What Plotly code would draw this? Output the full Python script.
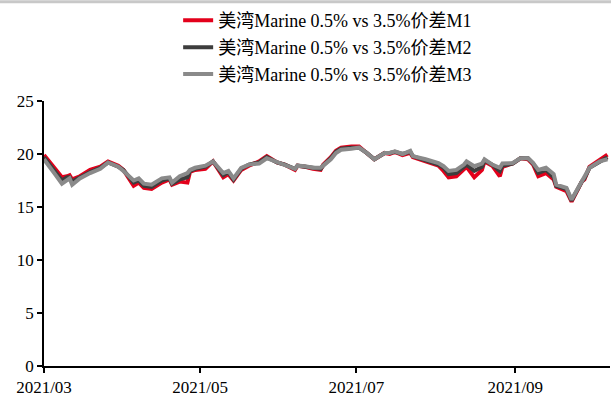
import plotly.graph_objects as go

# Daily spread observations (USD/t)
dates = [
    "2021-03-01", "2021-03-04", "2021-03-05", "2021-03-08", "2021-03-10", "2021-03-11",
    "2021-03-12", "2021-03-15", "2021-03-19", "2021-03-23", "2021-03-26", "2021-03-30",
    "2021-04-01", "2021-04-05", "2021-04-07", "2021-04-09", "2021-04-12", "2021-04-16",
    "2021-04-19", "2021-04-20", "2021-04-23", "2021-04-26", "2021-04-27", "2021-04-29",
    "2021-05-03", "2021-05-06", "2021-05-10", "2021-05-12", "2021-05-14", "2021-05-17",
    "2021-05-20", "2021-05-24", "2021-05-27", "2021-05-31", "2021-06-03", "2021-06-07",
    "2021-06-08", "2021-06-11", "2021-06-14", "2021-06-17", "2021-06-18", "2021-06-21",
    "2021-06-23", "2021-06-25", "2021-06-29", "2021-07-02", "2021-07-05", "2021-07-08",
    "2021-07-12", "2021-07-14", "2021-07-16", "2021-07-19", "2021-07-22", "2021-07-23",
    "2021-07-28", "2021-08-02", "2021-08-04", "2021-08-06", "2021-08-09", "2021-08-12",
    "2021-08-13", "2021-08-16", "2021-08-19", "2021-08-20", "2021-08-23", "2021-08-26",
    "2021-08-27", "2021-08-31", "2021-09-03", "2021-09-06", "2021-09-08", "2021-09-10",
    "2021-09-13", "2021-09-16", "2021-09-17", "2021-09-21", "2021-09-23", "2021-09-27",
    "2021-09-28", "2021-09-30", "2021-10-04", "2021-10-07",
]

spread_m1 = [
    19.9, 19.0, 18.8, 17.8, 17.9, 18.0, 17.6, 17.9, 18.5, 18.8, 19.3, 18.9,
    18.5, 17.0, 17.3, 16.8, 16.7, 17.3, 17.6, 17.1, 17.4, 17.3, 18.3, 18.5,
    18.6, 19.3, 17.8, 18.1, 17.5, 18.5, 18.9, 19.3, 19.8, 19.2, 19.0, 18.5,
    18.9, 18.8, 18.6, 18.5, 19.0, 19.7, 20.3, 20.6, 20.7, 20.7, 20.1, 19.5,
    20.1, 20.0, 20.2, 19.9, 20.1, 19.7, 19.3, 18.9, 18.4, 17.8, 17.9, 18.5,
    18.8, 17.8, 18.5, 19.3, 18.9, 17.9, 18.8, 19.1, 19.6, 19.5, 19.0, 17.9,
    18.2, 17.6, 16.9, 16.5, 15.5, 17.4, 17.6, 18.8, 19.5, 19.95,
]

spread_m2 = [
    19.7, 18.8, 18.5, 17.5, 17.8, 17.8, 17.4, 17.8, 18.3, 18.7, 19.2, 18.8,
    18.5, 17.3, 17.5, 17.0, 16.9, 17.5, 17.7, 17.2, 17.6, 17.8, 18.4, 18.6,
    18.8, 19.3, 18.0, 18.3, 17.6, 18.6, 19.0, 19.2, 19.7, 19.2, 19.0, 18.6,
    18.9, 18.8, 18.7, 18.6, 18.9, 19.6, 20.2, 20.5, 20.6, 20.6, 20.1, 19.5,
    20.1, 20.1, 20.2, 20.0, 20.2, 19.8, 19.4, 19.0, 18.7, 18.1, 18.2, 18.8,
    19.0, 18.4, 18.8, 19.4, 19.0, 18.4, 18.9, 19.1, 19.6, 19.6, 19.1, 18.2,
    18.5, 17.8, 17.0, 16.7, 15.6, 17.4, 17.7, 18.7, 19.3, 19.7,
]

spread_m3 = [
    19.5, 18.6, 18.2, 17.2, 17.6, 17.7, 17.1, 17.7, 18.2, 18.6, 19.2, 18.8,
    18.4, 17.5, 17.7, 17.2, 17.1, 17.7, 17.8, 17.3, 17.9, 18.2, 18.5, 18.7,
    18.9, 19.3, 18.2, 18.4, 17.7, 18.7, 19.0, 19.1, 19.6, 19.2, 19.0, 18.6,
    18.9, 18.85, 18.7, 18.7, 18.9, 19.5, 20.1, 20.4, 20.5, 20.6, 20.1, 19.5,
    20.1, 20.1, 20.25, 20.0, 20.3, 19.8, 19.5, 19.15, 18.85, 18.4, 18.5, 19.0,
    19.3, 18.85, 19.1, 19.5, 19.0, 18.7, 19.1, 19.15, 19.6, 19.6, 19.15, 18.5,
    18.7, 18.1, 17.1, 16.8, 15.7, 17.45, 17.75, 18.7, 19.3, 19.5,
]

series_names = [
    "美湾Marine 0.5% vs 3.5%价差M1",
    "美湾Marine 0.5% vs 3.5%价差M2",
    "美湾Marine 0.5% vs 3.5%价差M3",
]
series_colors = ["#e3001b", "#3d3d3d", "#8a8a8a"]

y_ticks = [0, 5, 10, 15, 20, 25]
x_tick_dates = ["2021-03-01", "2021-05-01", "2021-07-01", "2021-09-01"]
x_tick_labels = ["2021/03", "2021/05", "2021/07", "2021/09"]

serif = "Liberation Serif, Times New Roman, Noto Sans CJK SC, serif"

fig = go.Figure()
for name, values, color in zip(series_names, [spread_m1, spread_m2, spread_m3], series_colors):
    fig.add_trace(go.Scatter(
        x=dates, y=values, mode="lines", name=name, legendgroup=name,
        line=dict(color=color, width=4),
    ))

fig.update_layout(
    width=611, height=398,
    margin=dict(l=44, r=1, t=101, b=30),
    paper_bgcolor="white", plot_bgcolor="white",
    font=dict(family=serif, size=17, color="#000000"),
    showlegend=True,
    legend=dict(
        x=0.237, y=1.03, xanchor="left", yanchor="bottom",
        font=dict(family=serif, size=18, color="#000000"),
        traceorder="grouped", tracegroupgap=0.5,
        bgcolor="rgba(0,0,0,0)",
    ),
    xaxis=dict(
        type="date",
        range=["2021-03-01", "2021-10-08"],
        tickvals=x_tick_dates, ticktext=x_tick_labels,
        ticks="outside", ticklen=5, tickwidth=1.5, tickcolor="black",
        showline=True, linecolor="black", linewidth=1.5,
        showgrid=False, zeroline=False,
        tickfont=dict(family=serif, size=17),
    ),
    yaxis=dict(
        range=[0, 25], tickvals=y_ticks,
        ticks="outside", ticklen=5, tickwidth=1.5, tickcolor="black",
        showline=True, linecolor="black", linewidth=1.5,
        showgrid=False, zeroline=False,
        tickfont=dict(family=serif, size=17),
    ),
    shapes=[dict(
        type="line", xref="paper", yref="paper",
        x0=-0.1, x1=1.1, y0=1 + 100 / 267, y1=1 + 100 / 267,
        line=dict(color="#c8c8c8", width=3),
    )],
)

fig.write_html("out.html")
